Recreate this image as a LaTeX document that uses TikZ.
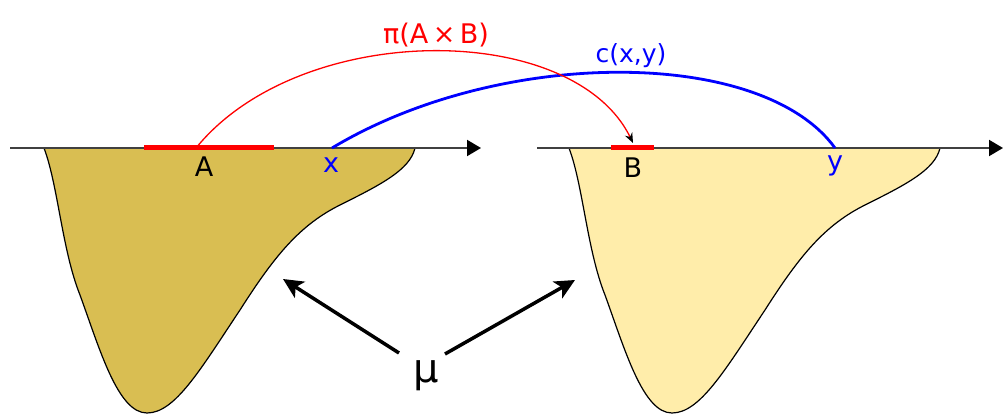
\documentclass[tikz,border=0pt]{standalone}
\usepackage{fontspec}
\setmainfont{DejaVu Sans}
\usetikzlibrary{arrows.meta}
\definecolor{goldL}{RGB}{217,190,82}
\definecolor{goldR}{RGB}{255,237,170}
\definecolor{axisgray}{RGB}{64,64,64}
\tikzset{
  dshape/.pic={
    \path[draw=black,line width=1.2pt,fill=#1]
      (44,148) .. controls (58,185) and (62,250) .. (80,295)
      .. controls (100,350) and (118,413) .. (147,413)
      .. controls (175,413) and (200,370) .. (240,310)
      .. controls (275,255) and (300,225) .. (340,205)
      .. controls (380,185) and (410,170) .. (415,148) -- cycle;
  }
}
\begin{document}
\begin{tikzpicture}[x=1pt,y=-1pt,
  axis/.style={draw=axisgray,line width=2pt,-{Triangle[length=14pt,width=16pt,black]}},
  seg/.style={red,line width=5pt},
  lbl/.style={font=\fontsize{27}{30}\selectfont,inner sep=0pt,anchor=base},
  pointer/.style={line width=3.5pt,-{Stealth[length=20pt,width=19pt,inset=5pt]}}]
\useasboundingbox (0,0) rectangle (1003,414);
% densities
\pic at (0,0) {dshape=goldL};
\pic at (525,0) {dshape=goldR};
% axes
\coordinate (L0) at (10,148);
\coordinate (L1) at (481,148);
\coordinate (R0) at (537,148);
\coordinate (R1) at (1003,148);
\draw[axis] (L0) -- (L1);
\draw[axis] (R0) -- (R1);
% sets
\coordinate (A0) at (144,148);
\coordinate (A1) at (274,148);
\coordinate (B0) at (611,148);
\coordinate (B1) at (654,148);
\draw[seg] (A0) -- (A1);
\draw[seg] (B0) -- (B1);
% arcs
\coordinate (px) at (332,148);
\coordinate (py) at (835,148);
\coordinate (pA) at (196,148);
\coordinate (pB) at (633,143);
\draw[blue,line width=2.8pt] (px) .. controls (500,47) and (762,47) .. (py);
\draw[red,line width=1.3pt,-{Stealth[length=10pt,width=8pt,black]}] (pA) .. controls (300,20) and (573,20) .. (pB);
% labels
\node[lbl] (labA) at (204,177) {A};
\node[lbl,text=blue] (labx) at (331,172) {x};
\node[lbl] (labB) at (633,178) {B};
\node[lbl,text=blue] (laby) at (835,171) {y};
\node[lbl,text=red,font=\fontsize{27}{30}\selectfont] (pi) at (436,44) {π(A\,×\,B)};
\node[lbl,text=blue,font=\fontsize{25}{28}\selectfont] (cxy) at (631,63) {c(x,y)};
\node[lbl,font=\fontsize{40}{44}\selectfont] (mu) at (426,382) {μ};
% pointers
\coordinate (mL) at (399,353);
\coordinate (tL) at (283,279);
\coordinate (mR) at (445,354);
\coordinate (tR) at (575,280);
\draw[pointer] (mL) -- (tL);
\draw[pointer] (mR) -- (tR);
\end{tikzpicture}
\end{document}
